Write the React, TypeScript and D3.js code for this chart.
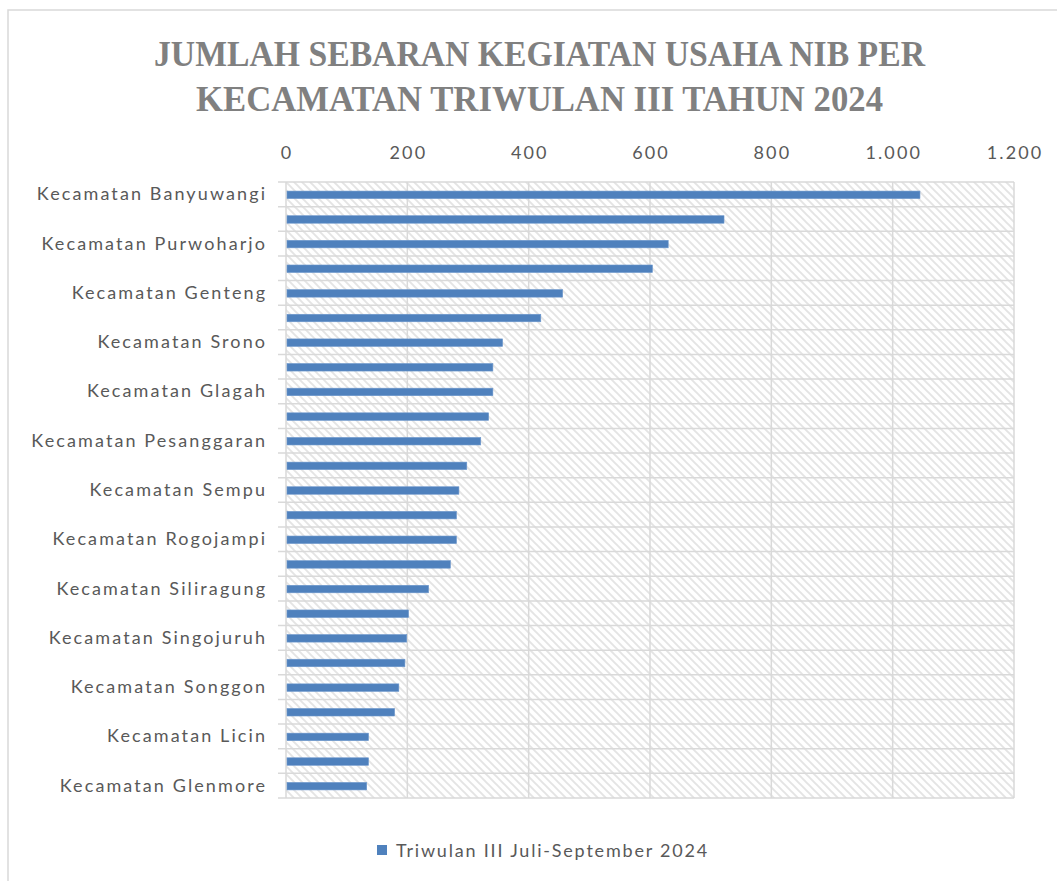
import React, { useEffect, useRef } from 'react'
import * as d3 from 'd3'

// kecamatan, urut dari terbesar; label ganjil tidak tampil di grafik asli
const kecamatan = [
  'Kecamatan Banyuwangi', 'Kecamatan Muncar', 'Kecamatan Purwoharjo', 'Kecamatan Cluring',
  'Kecamatan Genteng', 'Kecamatan Gambiran', 'Kecamatan Srono', 'Kecamatan Kabat',
  'Kecamatan Glagah', 'Kecamatan Giri', 'Kecamatan Pesanggaran', 'Kecamatan Bangorejo',
  'Kecamatan Sempu', 'Kecamatan Tegalsari', 'Kecamatan Rogojampi', 'Kecamatan Kalipuro',
  'Kecamatan Siliragung', 'Kecamatan Wongsorejo', 'Kecamatan Singojuruh', 'Kecamatan Blimbingsari',
  'Kecamatan Songgon', 'Kecamatan Tegaldlimo', 'Kecamatan Licin', 'Kecamatan Kalibaru',
  'Kecamatan Glenmore',
]
const triwulan3 = [
  1045, 722, 630, 604, 456, 420, 357, 341, 341, 334, 321, 298, 285,
  281, 281, 271, 235, 202, 199, 196, 186, 179, 136, 136, 133,
]
const xTicks = [0, 200, 400, 600, 800, 1000, 1200]
const seriesName = 'Triwulan III Juli-September 2024'
const titleLines = ['JUMLAH SEBARAN KEGIATAN USAHA NIB PER', 'KECAMATAN TRIWULAN III TAHUN 2024']

const W = 1057
const H = 881

export default function App() {
  const ref = useRef<SVGSVGElement>(null)

  useEffect(() => {
    const svg = d3.select(ref.current)
    svg.selectAll('*').remove()

    const left = 286, right = 1014, top = 182, bottom = 798
    const fmt = (v: number) => d3.format(',')(v).replace(/,/g, '.')
    const sans = 'Lato, "Noto Sans", sans-serif'
    const ls = 2.1 // letter spacing to mimic the wide Calibri rendering

    const defs = svg.append('defs')
    const pat = defs.append('pattern')
      .attr('id', 'hatch')
      .attr('patternUnits', 'userSpaceOnUse')
      .attr('width', 8).attr('height', 8)
    pat.append('rect').attr('width', 8).attr('height', 8).attr('fill', '#fff')
    pat.append('path')
      .attr('d', 'M-2,-2 L10,10 M-2,6 L2,10 M6,-2 L10,2')
      .attr('stroke', '#e4e4e4').attr('stroke-width', 1.9)

    // chart frame
    svg.append('rect')
      .attr('x', 8).attr('y', 10).attr('width', W + 10).attr('height', H + 10)
      .attr('fill', '#fff').attr('stroke', '#d9d9d9').attr('stroke-width', 1.5)

    svg.selectAll('text.title')
      .data(titleLines)
      .join('text')
      .attr('class', 'title')
      .attr('x', (d, i) => (i === 0 ? 154 : 196))
      .attr('y', (d, i) => (i === 0 ? 66 : 111))
      .attr('textLength', (d, i) => (i === 0 ? 771 : 687))
      .attr('lengthAdjust', 'spacingAndGlyphs')
      .attr('font-family', '"Liberation Serif", "DejaVu Serif", serif')
      .attr('font-weight', 'bold')
      .attr('font-size', 36)
      .attr('fill', '#808080')
      .text(d => d)

    const x = d3.scaleLinear().domain([0, 1200]).range([left, right])
    const y = d3.scaleBand().domain(kecamatan).range([top, bottom])

    svg.append('rect')
      .attr('x', left).attr('y', top)
      .attr('width', right - left).attr('height', bottom - top)
      .attr('fill', 'url(#hatch)')

    // horizontal grid at band boundaries + left ticks
    const bounds = d3.range(kecamatan.length + 1).map(i => top + i * y.step())
    svg.append('g').selectAll('line')
      .data(bounds)
      .join('line')
      .attr('x1', left - 8).attr('x2', right)
      .attr('y1', d => d).attr('y2', d => d)
      .attr('stroke', '#d9d9d9').attr('stroke-width', 1.5)

    svg.append('g').selectAll('line')
      .data(xTicks)
      .join('line')
      .attr('x1', d => x(d)).attr('x2', d => x(d))
      .attr('y1', top).attr('y2', bottom)
      .attr('stroke', '#d9d9d9').attr('stroke-width', 1.5)

    svg.append('g').selectAll('text')
      .data(xTicks)
      .join('text')
      .attr('x', d => x(d) + ls / 2).attr('y', 159)
      .attr('text-anchor', 'middle')
      .attr('font-family', sans).attr('font-size', 18)
      .attr('letter-spacing', ls)
      .attr('fill', '#595959')
      .text(d => fmt(d))

    const barH = 7.5
    svg.append('g').selectAll('rect')
      .data(triwulan3)
      .join('rect')
      .attr('x', x(0) + 1)
      .attr('y', (d, i) => (y(kecamatan[i]) as number) + y.bandwidth() / 2 - barH / 2 + 0.5)
      .attr('width', d => x(d) - x(0) - 1)
      .attr('height', barH)
      .attr('fill', '#4f81bd')
      .attr('stroke', '#6d97cc').attr('stroke-width', 0.6)

    svg.append('g').selectAll('text')
      .data(kecamatan.filter((d, i) => i % 2 === 0))
      .join('text')
      .attr('x', 265 + ls)
      .attr('y', d => (y(d) as number) + y.bandwidth() / 2 + 6)
      .attr('text-anchor', 'end')
      .attr('font-family', sans).attr('font-size', 18)
      .attr('letter-spacing', ls)
      .attr('fill', '#595959')
      .text(d => d)

    const lg = svg.append('g')
    lg.append('rect')
      .attr('x', 377).attr('y', 845).attr('width', 10).attr('height', 10)
      .attr('fill', '#4f81bd')
    lg.append('text')
      .attr('x', 396).attr('y', 857)
      .attr('font-family', sans).attr('font-size', 18)
      .attr('letter-spacing', 1.8)
      .attr('fill', '#595959')
      .text(seriesName)
  }, [])

  return (
    <div style={{ position: 'absolute', left: 0, top: 0 }}>
      <svg ref={ref} width={W} height={H} style={{ display: 'block' }} />
    </div>
  )
}
